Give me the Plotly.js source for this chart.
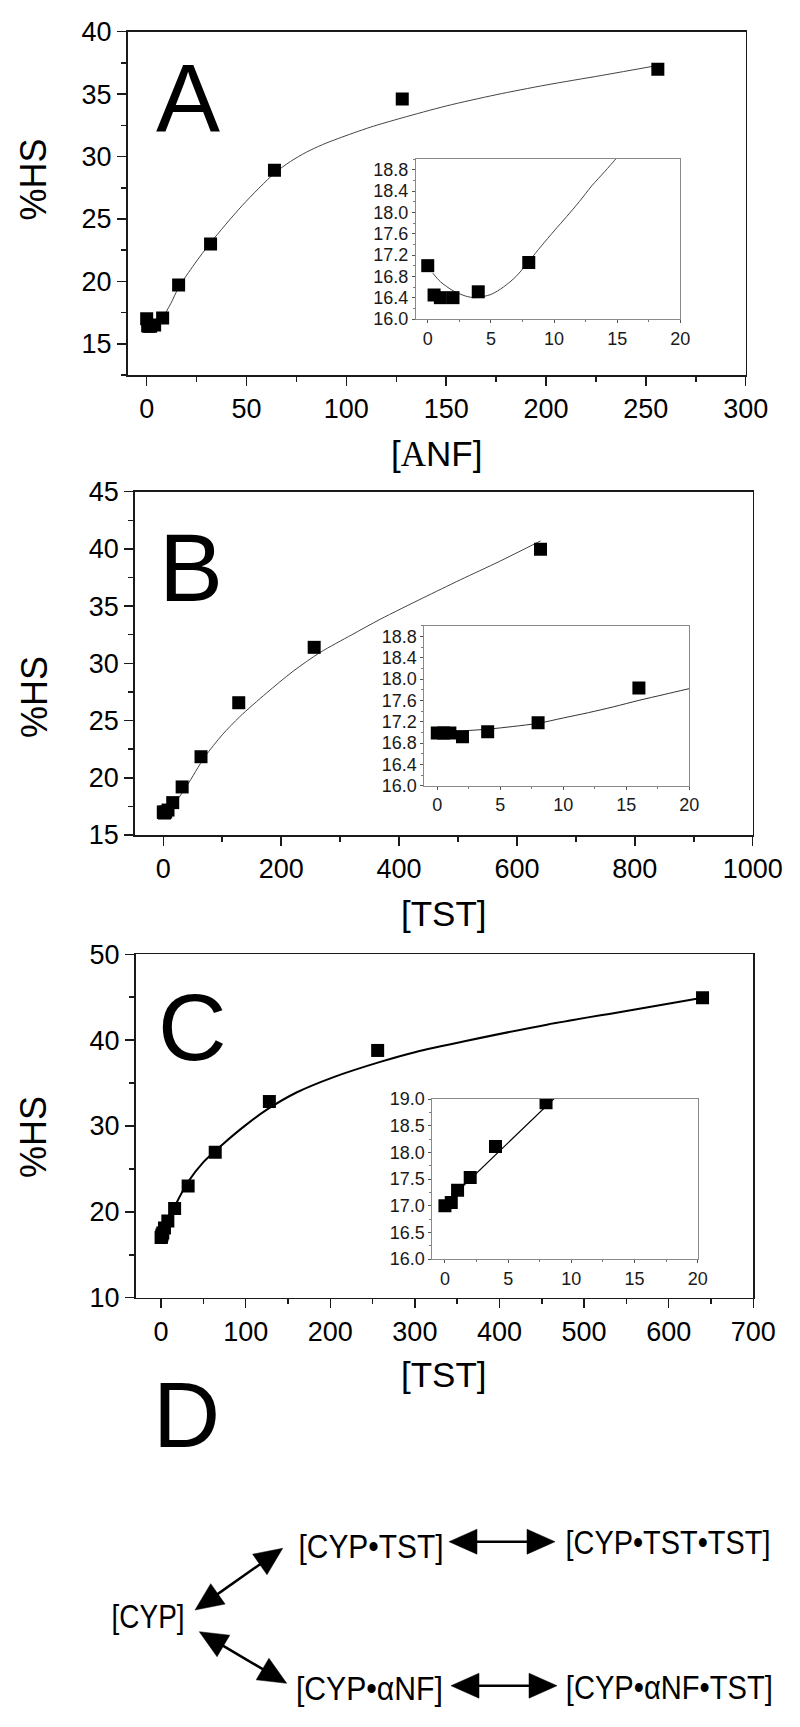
<!DOCTYPE html>
<html>
<head>
<meta charset="utf-8">
<script src="https://cdn.plot.ly/plotly-3.0.1.min.js"></script>
<style>html,body{margin:0;padding:0;background:#fff;}#chart{width:800px;height:1727px;}</style>
</head>
<body>
<div id="chart"></div>
<script>
// ---------------- data ----------------
const concA = [0, 0.5, 1, 2, 4, 8, 16, 32, 64, 128, 256];
const hsA   = [17.0, 16.45, 16.4, 16.4, 16.51, 17.06, 19.7, 23.0, 28.9, 34.6, 37.0];
const fitA_x = [0, 2, 4, 6, 8, 12, 16, 24, 32, 48, 64, 72, 80, 88, 96, 112, 128, 150, 175, 200, 228, 256];
const fitA_y = [16.9, 16.53, 16.42, 16.6, 17.08, 18.2, 19.5, 21.4, 23.1, 26.1, 28.66, 29.6, 30.35, 30.95, 31.45, 32.35, 33.1, 34.05, 34.95, 35.73, 36.5, 37.3];
const fitA_inset_x = [0.4, 1, 2, 3, 3.75, 5, 6, 7, 8, 9, 10, 11, 12, 13, 14, 15, 16];
const fitA_inset_y = [16.86, 16.7, 16.53, 16.43, 16.4, 16.46, 16.6, 16.8, 17.08, 17.37, 17.65, 17.92, 18.2, 18.5, 18.76, 19.03, 19.3];

const concB = [0, 0.5, 1, 2, 4, 8, 16, 32, 64, 128, 256, 640];
const hsB   = [16.99, 16.99, 16.99, 16.92, 17.01, 17.18, 17.83, 19.2, 21.84, 26.56, 31.4, 39.97];
const fitB_x = [0, 10, 20, 40, 70, 100, 130, 175, 220, 266, 320, 368, 440, 504, 570, 640];
const fitB_y = [17.02, 17.27, 17.82, 19.3, 21.8, 23.75, 25.35, 27.4, 29.3, 30.95, 32.5, 33.85, 35.7, 37.3, 38.9, 40.7];
const fitB_inset_x = [0, 2, 4, 6, 8, 10, 12, 14, 16, 18, 20];
const fitB_inset_y = [17.02, 17.03, 17.06, 17.11, 17.17, 17.27, 17.37, 17.48, 17.6, 17.71, 17.82];

const concC = [0, 0.5, 1, 2, 4, 8, 16, 32, 64, 128, 256, 640];
const hsC   = [17.0, 17.06, 17.29, 17.53, 18.11, 18.93, 20.4, 23.0, 26.95, 32.85, 38.8, 44.95];
const fitC_x = [0, 4, 8, 16, 32, 50, 72, 100, 125, 160, 204, 260, 300, 360, 456, 550, 640];
const fitC_y = [17.04, 17.95, 18.86, 20.6, 23.5, 25.8, 27.8, 30.1, 31.9, 33.9, 35.7, 37.5, 38.6, 39.9, 41.8, 43.4, 44.95];
const fitC_inset_x = [0, 1, 2, 4, 6, 8, 9];
const fitC_inset_y = [17.04, 17.27, 17.5, 17.95, 18.41, 18.86, 19.09];

const panelLetters = ['A', 'B', 'C', 'D'];
const yTitle = '%HS';
const xTitles = ['[<span style="font-family:Liberation Serif">A</span>NF]', '[TST]', '[TST]'];
const schemeLabels = ['[CYP]', '[CYP\u2022TST]', '[CYP\u2022TST\u2022TST]', '[CYP\u2022\u03B1NF]', '[CYP\u2022\u03B1NF\u2022TST]'];

// ---------------- layout helpers (pixel -> paper) ----------------
const W = 800, H = 1727;
const px = v => v / W;
const py = v => 1 - v / H;
const dx = (a, b) => [px(a), px(b)];
const dy = (top, bot) => [py(bot), py(top)];

const SANS = 'Liberation Sans, Arial, sans-serif';

function mainAxis(domain, range, dtick, minor, anchor) {
  return {
    domain, range, anchor, tickmode: 'linear', tick0: 0, dtick,
    showgrid: false, zeroline: false, showline: true, mirror: true,
    linecolor: '#1a1a1a', linewidth: 1.7,
    ticks: 'outside', ticklen: 9, tickwidth: 1.5, tickcolor: '#1a1a1a',
    tickfont: {family: SANS, size: 27, color: '#000'},
    minor: {ticks: 'outside', ticklen: 5, tickwidth: 1.5, tickcolor: '#1a1a1a', dtick: minor, tick0: 0, showgrid: false},
    fixedrange: true
  };
}
function insetAxis(domain, range, dtick, minor, anchor, fmt) {
  return {
    domain, range, anchor, tickmode: 'linear', tick0: (fmt ? 16 : 0), dtick,
    tickformat: fmt || '',
    showgrid: false, zeroline: false, showline: true, mirror: true,
    linecolor: '#8a8a8a', linewidth: 1,
    ticks: 'outside', ticklen: 3, tickwidth: 1, tickcolor: '#555',
    tickfont: {family: SANS, size: 18, color: '#1a1a1a'},
    ticklabelstandoff: 0,
    minor: {ticks: 'outside', ticklen: 2, tickwidth: 1, tickcolor: '#777', dtick: minor, showgrid: false},
    fixedrange: true
  };
}

const marker = {symbol: 'square', size: 13, color: '#000'};
const traces = [
  // A
  {x: fitA_x, y: fitA_y, xaxis: 'x', yaxis: 'y', mode: 'lines', line: {color: '#444', width: 1, shape: 'spline', smoothing: 0.8}},
  {x: concA, y: hsA, xaxis: 'x', yaxis: 'y', mode: 'markers', marker},
  {x: fitA_inset_x, y: fitA_inset_y, xaxis: 'x2', yaxis: 'y2', mode: 'lines', line: {color: '#444', width: 1, shape: 'spline', smoothing: 0.8}},
  {x: concA, y: hsA, xaxis: 'x2', yaxis: 'y2', mode: 'markers', marker},
  // B
  {x: fitB_x, y: fitB_y, xaxis: 'x3', yaxis: 'y3', mode: 'lines', line: {color: '#444', width: 1, shape: 'spline', smoothing: 0.8}},
  {x: concB, y: hsB, xaxis: 'x3', yaxis: 'y3', mode: 'markers', marker},
  {x: fitB_inset_x, y: fitB_inset_y, xaxis: 'x4', yaxis: 'y4', mode: 'lines', line: {color: '#333', width: 1, shape: 'spline', smoothing: 0.8}},
  {x: concB, y: hsB, xaxis: 'x4', yaxis: 'y4', mode: 'markers', marker},
  // C
  {x: fitC_x, y: fitC_y, xaxis: 'x5', yaxis: 'y5', mode: 'lines', line: {color: '#000', width: 2, shape: 'spline', smoothing: 0.8}},
  {x: concC, y: hsC, xaxis: 'x5', yaxis: 'y5', mode: 'markers', marker},
  {x: fitC_inset_x, y: fitC_inset_y, xaxis: 'x6', yaxis: 'y6', mode: 'lines', line: {color: '#000', width: 1.2}},
  {x: concC, y: hsC, xaxis: 'x6', yaxis: 'y6', mode: 'markers', marker}
];

const layout = {
  width: W, height: H, margin: {l: 0, r: 0, t: 0, b: 0},
  paper_bgcolor: '#fff', plot_bgcolor: '#fff', showlegend: false,
  font: {family: SANS, color: '#000'},
  xaxis:  mainAxis(dx(127.7, 745.7), [-9.5, 300], 50, 25, 'y'),
  yaxis:  mainAxis(dy(31.7, 375), [12.5, 40], 5, 2.5, 'x'),
  xaxis2: insetAxis(dx(416, 680.3), [-0.93, 20], 5, 2.5, 'y2'),
  yaxis2: insetAxis(dy(159, 319), [16, 19], 0.4, 0.2, 'x2', '.1f'),
  xaxis3: mainAxis(dx(135, 752.7), [-48, 1000], 200, 100, 'y3'),
  yaxis3: mainAxis(dy(491.7, 835), [15, 45], 5, 2.5, 'x3'),
  xaxis4: insetAxis(dx(424.3, 689.3), [-1.03, 20], 5, 2.5, 'y4'),
  yaxis4: insetAxis(dy(625.7, 785.7), [16, 19], 0.4, 0.2, 'x4', '.1f'),
  xaxis5: mainAxis(dx(135.7, 753.3), [-30, 700], 100, 50, 'y5'),
  yaxis5: mainAxis(dy(954.3, 1297.7), [10, 50], 10, 5, 'x5'),
  xaxis6: insetAxis(dx(432.3, 697.7), [-1, 20], 5, 2.5, 'y6'),
  yaxis6: insetAxis(dy(1099, 1259), [16, 19], 0.5, 0.25, 'x6', '.1f'),
  annotations: [],
  shapes: []
};

function addText(text, x, y, size, opts) {
  layout.annotations.push(Object.assign({
    text, xref: 'paper', yref: 'paper', x: px(x), y: py(y), showarrow: false,
    xanchor: 'left', yanchor: 'middle', borderpad: 0,
    font: {family: SANS, size, color: '#000'}
  }, opts || {}));
}

// panel letters
addText(panelLetters[0], 155, 97.5, 96);
addText(panelLetters[1], 158, 567, 96);
addText(panelLetters[2], 157, 1026.7, 95);
addText(panelLetters[3], 152, 1415, 93);

// axis titles
addText(yTitle, 33, 179.5, 36, {xanchor: 'center', textangle: -90});
addText(yTitle, 34, 697, 36, {xanchor: 'center', textangle: -90});
addText(yTitle, 33, 1137, 36, {xanchor: 'center', textangle: -90});
addText(xTitles[0], 436, 454, 35, {xanchor: 'center'});
addText(xTitles[1], 444, 913, 35, {xanchor: 'center'});
addText(xTitles[2], 444, 1374, 35, {xanchor: 'center'});

// scheme D: centre x, centre y, condensed width (pixels)
const nodeBox = [[148.4, 1616.5, 73], [370.7, 1546, 145], [667.9, 1542, 205], [369.5, 1688, 147], [669.5, 1687, 207]];
const firstNode = layout.annotations.length;
schemeLabels.forEach((t, i) => addText(t, nodeBox[i][0], nodeBox[i][1], 33, {xanchor: 'center'}));

function dblArrow(x1, y1, x2, y2) {
  const L = 28, hw = 12.5;
  const ddx = x2 - x1, ddy = y2 - y1, d = Math.hypot(ddx, ddy);
  const ux = ddx / d, uy = ddy / d, nx = -uy, ny = ux;
  const f = v => v.toFixed(5);
  const head = (tx, ty, ex, ey) => {
    const bx = tx - ex * L, by = ty - ey * L;
    return 'M' + f(px(tx)) + ',' + f(py(ty)) +
           ' L' + f(px(bx + nx * hw)) + ',' + f(py(by + ny * hw)) +
           ' L' + f(px(bx - nx * hw)) + ',' + f(py(by - ny * hw)) + ' Z';
  };
  layout.shapes.push({type: 'line', xref: 'paper', yref: 'paper',
    x0: px(x1 + ux * L * 0.8), y0: py(y1 + uy * L * 0.8), x1: px(x2 - ux * L * 0.8), y1: py(y2 - uy * L * 0.8),
    line: {color: '#000', width: 2.5}});
  layout.shapes.push({type: 'path', xref: 'paper', yref: 'paper', path: head(x2, y2, ux, uy), fillcolor: '#000', line: {color: '#000', width: 0.5}});
  layout.shapes.push({type: 'path', xref: 'paper', yref: 'paper', path: head(x1, y1, -ux, -uy), fillcolor: '#000', line: {color: '#000', width: 0.5}});
}
dblArrow(195, 1610, 282.7, 1548.3);
dblArrow(199.3, 1631.7, 286.7, 1683.3);
dblArrow(449, 1541.7, 555, 1541.7);
dblArrow(451, 1685.7, 557, 1685.7);

Plotly.newPlot('chart', traces, layout, {staticPlot: true, displayModeBar: false}).then(gd => {
  // condense the scheme labels horizontally (narrow typeface in the original)
  nodeBox.forEach((b, i) => {
    const g = gd.querySelector('g.annotation[data-index="' + (firstNode + i) + '"] text.annotation-text');
    if (g) {
      g.setAttribute('textLength', b[2]);
      g.setAttribute('lengthAdjust', 'spacingAndGlyphs');
    }
  });
});
</script>
</body>
</html>
